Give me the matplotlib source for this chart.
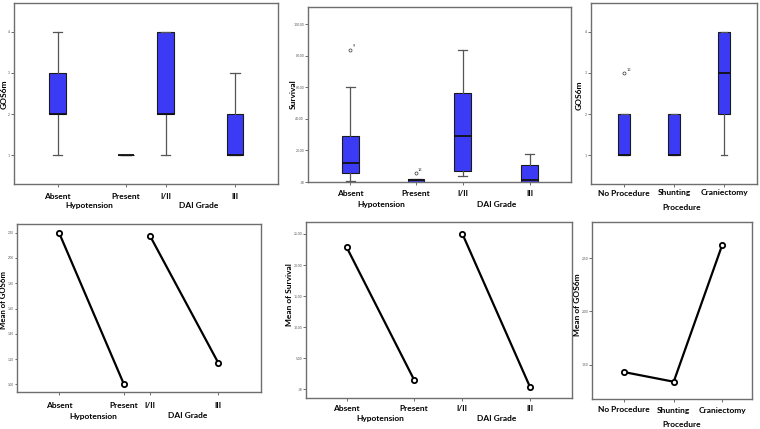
import numpy as np
import matplotlib
matplotlib.use('Agg')
import matplotlib.pyplot as plt

plt.rcParams['font.family'] = ['Lato', 'DejaVu Sans']

W, H = 760, 429

# ---- data ----
# top row: box plots (whislo, q1, med, q3, whishi)
gos_groups = ['Absent', 'Present', 'I/II', 'III']
gos_box = [(1, 2, 2, 3, 4), (1, 1, 1, 1, 1), (1, 2, 2, 4, 4), (1, 1, 1, 2, 3)]

surv_groups = ['Absent', 'Present', 'I/II', 'III']
surv_box = [(0.5, 5.7, 11.8, 29.0, 60.0), (0.0, 0.2, 1.0, 2.1, 2.1),
            (3.8, 7.2, 29.0, 56.6, 83.8), (0.0, 0.2, 1.5, 11.0, 17.7)]
surv_fliers = [[84.0], [5.7], [], []]
surv_flier_ids = [['9'], ['18'], [], []]

proc_groups = ['No Procedure', 'Shunting', 'Craniectomy']
proc_box = [(1, 1, 1, 2, 2), (1, 1, 1, 2, 2), (1, 2, 3, 4, 4)]
proc_fliers = [[3.0], [], []]
proc_flier_ids = [['13'], [], []]

# bottom row: means
mean_gos_hypo = [2.20, 1.00]
mean_gos_dai = [2.17, 1.17]
mean_surv_hypo = [22.85, 1.56]
mean_surv_dai = [25.05, 0.38]
mean_gos_proc = [1.43, 1.34, 2.625]

BLUE = '#3b3bf6'
SPINE = '#6e6e6e'


def make_ax(fig, x0, y0, x1, y1):
    ax = fig.add_axes([x0 / W, 1 - y1 / H, (x1 - x0) / W, (y1 - y0) / H])
    ax.set_xlim(x0, x1)
    for s in ax.spines.values():
        s.set_color(SPINE)
        s.set_linewidth(1.0)
    ax.tick_params(axis='y', labelsize=2.4, labelcolor='#555555', length=2,
                   width=0.6, color='#555555', pad=0.8)
    ax.tick_params(axis='x', length=2.5, width=0.6, color='#555555',
                   labelbottom=False)
    return ax


def txt(fig, x, y, s, **kw):
    kw.setdefault('fontsize', 6)
    kw.setdefault('fontweight', 'bold')
    fig.text(x / W, 1 - y / H, s, ha='center', va='center', **kw)


def boxes(ax, xs, stats, width, fliers=None, ids=None):
    bstats = []
    for i, (lo, q1, med, q3, hi) in enumerate(stats):
        bstats.append(dict(whislo=lo, q1=q1, med=med, q3=q3, whishi=hi,
                           fliers=fliers[i] if fliers else []))
    ax.bxp(bstats, positions=xs, widths=width, patch_artist=True,
           boxprops=dict(facecolor=BLUE, edgecolor='#1a1a1a', linewidth=0.8),
           medianprops=dict(color='#111111', linewidth=1.3),
           whiskerprops=dict(color='#555555', linewidth=0.9),
           capprops=dict(color='#555555', linewidth=0.9),
           flierprops=dict(marker='o', markersize=2.2, markerfacecolor='none',
                           markeredgecolor='#333333', markeredgewidth=0.5),
           capwidths=width * 0.55, manage_ticks=False)
    if fliers:
        for x, fl, lab in zip(xs, fliers, ids):
            for v, l in zip(fl, lab):
                ax.annotate(l, (x, v), xytext=(1.5, 1.5), textcoords='offset points',
                            fontsize=2.8, color='#333333')


def means(ax, xs, ys):
    ax.plot(xs, ys, color='black', linewidth=1.6, marker='o', markersize=3.8,
            markerfacecolor='white', markeredgecolor='black', markeredgewidth=1.3)


fig = plt.figure(figsize=(W / 100, H / 100), dpi=100)
fig.patch.set_facecolor('white')

# ---------- top left ----------
ax = make_ax(fig, 14, 3, 278, 184)
xs = [57.7, 126, 165.7, 235]
boxes(ax, xs, gos_box, 16.5)
ax.set_ylim(0.293, 4.707)
ax.set_yticks([1, 2, 3, 4])
ax.set_xticks(xs)
for x, s in zip(xs, gos_groups):
    txt(fig, x, 196, s)
txt(fig, 89, 206, 'Hypotension')
txt(fig, 199, 206, 'DAI Grade')
txt(fig, 4.5, 94, 'GOS6m', rotation=90)

# ---------- top middle ----------
ax = make_ax(fig, 308, 7, 571, 182)
xs = [350.3, 416, 462.7, 529.5]
boxes(ax, xs, surv_box, 16.5, surv_fliers, surv_flier_ids)
ax.set_ylim(0, 111)
ax.set_yticks([0, 20, 40, 60, 80, 100])
ax.set_yticklabels(['.00', '20.00', '40.00', '60.00', '80.00', '100.00'])
ax.set_xticks(xs)
for x, s in zip(xs, surv_groups):
    txt(fig, x, 194, s)
txt(fig, 381.7, 204.5, 'Hypotension')
txt(fig, 496.7, 204.5, 'DAI Grade')
txt(fig, 293, 94, 'Survival', rotation=90)

# ---------- top right ----------
ax = make_ax(fig, 591, 3, 757, 184)
xs = [624.3, 674, 724]
boxes(ax, xs, proc_box, 12.3, proc_fliers, proc_flier_ids)
ax.set_ylim(0.293, 4.707)
ax.set_yticks([1, 2, 3, 4])
ax.set_xticks(xs)
for x, s in zip(xs, proc_groups):
    txt(fig, x, 193, s)
txt(fig, 681.7, 207, 'Procedure')
txt(fig, 579, 95, 'GOS6m', rotation=90)

# ---------- bottom left ----------
ax = make_ax(fig, 17, 224, 261, 392)
xs = [59, 124, 150.3, 218.3]
means(ax, xs[:2], mean_gos_hypo)
means(ax, xs[2:], mean_gos_dai)
ax.set_ylim(0.94, 2.268)
yt = [1.0, 1.2, 1.4, 1.6, 1.8, 2.0, 2.2]
ax.set_yticks(yt)
ax.set_yticklabels(['%.2f' % v for v in yt])
ax.tick_params(axis='y', labelsize=2.2, pad=0.5, length=1.6)
ax.set_xticks(xs)
for x, s in zip(xs, gos_groups):
    txt(fig, x, 405.7, s)
txt(fig, 93.3, 416, 'Hypotension')
txt(fig, 187.7, 416, 'DAI Grade')
txt(fig, 4, 300, 'Mean of GOS6m', rotation=90, fontsize=5.6)

# ---------- bottom middle ----------
ax = make_ax(fig, 306, 222, 572, 398)
xs = [346.7, 414, 462.3, 530]
means(ax, xs[:2], mean_surv_hypo)
means(ax, xs[2:], mean_surv_dai)
ax.set_ylim(-1.4, 26.93)
yt = [0, 5, 10, 15, 20, 25]
ax.set_yticks(yt)
ax.set_yticklabels(['.00'] + ['%.2f' % v for v in yt[1:]])
ax.set_xticks(xs)
for x, s in zip(xs, surv_groups):
    txt(fig, x, 408.3, s)
txt(fig, 380, 418.3, 'Hypotension')
txt(fig, 496.7, 418.3, 'DAI Grade')
txt(fig, 289, 295, 'Mean of Survival', rotation=90)

# ---------- bottom right ----------
ax = make_ax(fig, 592, 222, 752, 399)
xs = [624.3, 673.7, 722.3]
means(ax, xs, mean_gos_proc)
ax.set_ylim(1.178, 2.838)
yt = [1.5, 2.0, 2.5]
ax.set_yticks(yt)
ax.set_yticklabels(['%.2f' % v for v in yt])
ax.set_xticks(xs)
for x, s in zip(xs, proc_groups):
    txt(fig, x, 410, s)
txt(fig, 681.7, 424.3, 'Procedure')
txt(fig, 578, 305, 'Mean of GOS6m', rotation=90)

fig.savefig('out.png', dpi=100, facecolor='white')
